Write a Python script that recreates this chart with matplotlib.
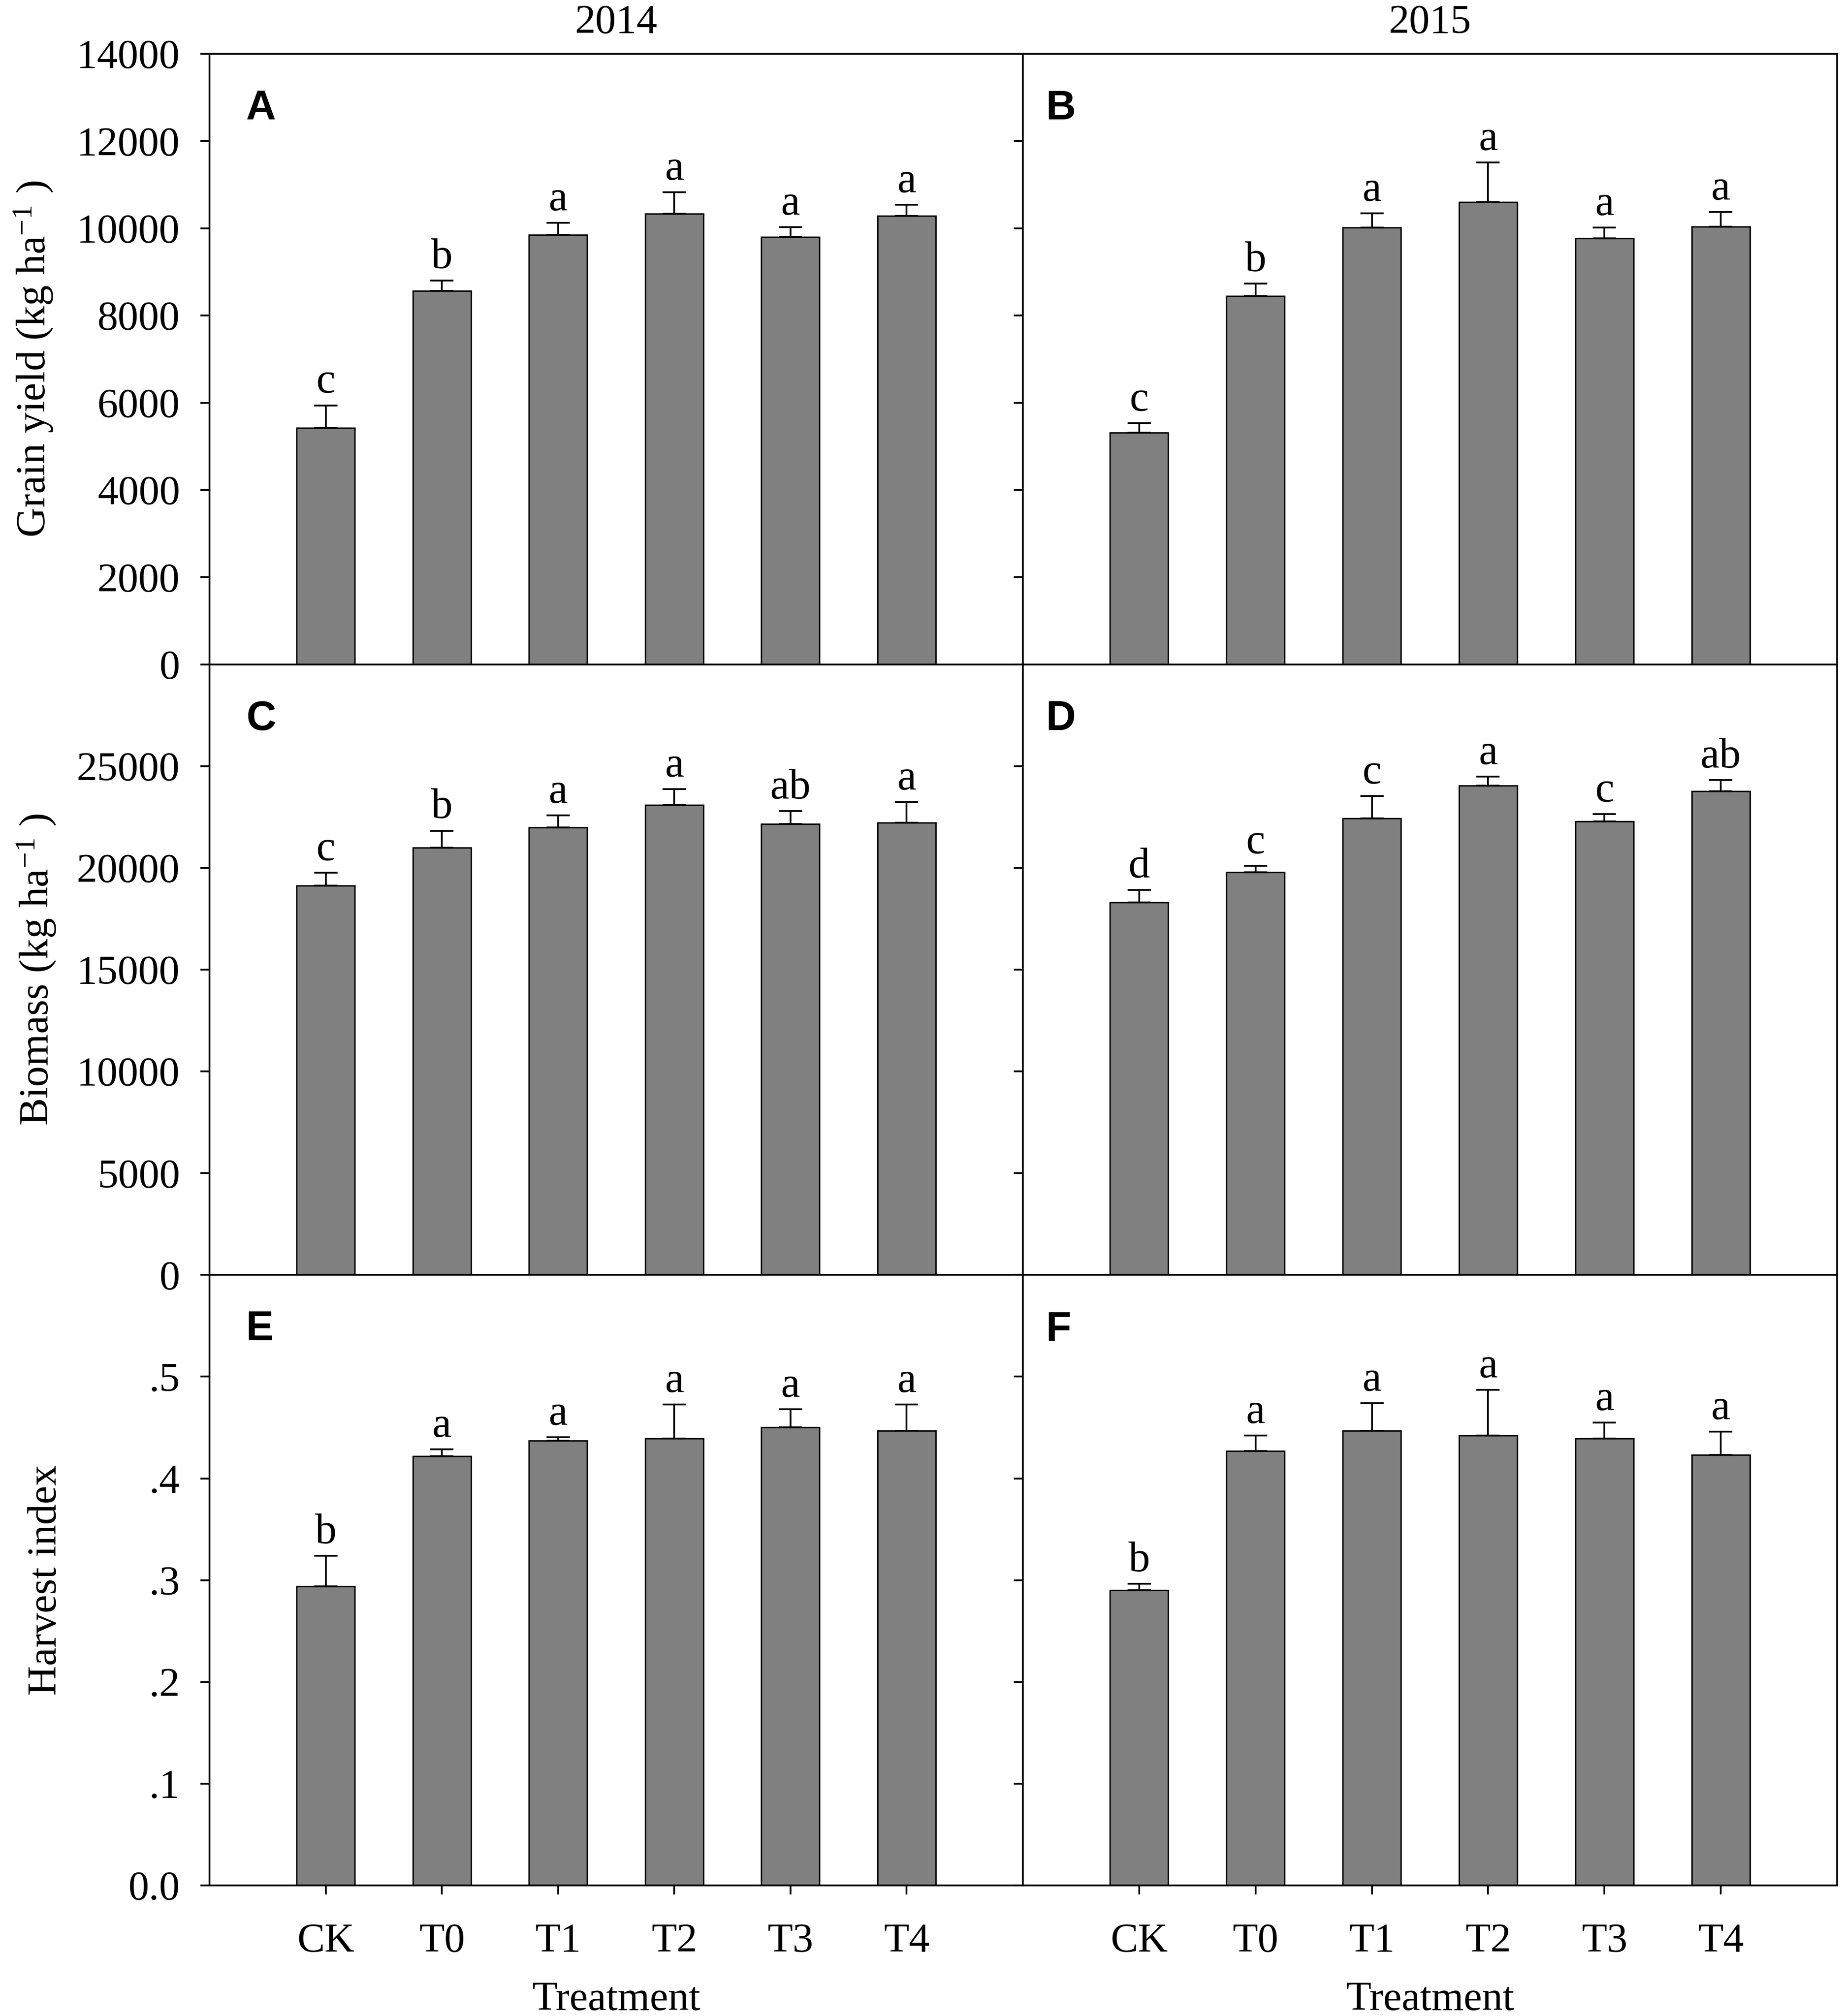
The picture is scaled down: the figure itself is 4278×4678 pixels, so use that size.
import matplotlib
matplotlib.use('Agg')
import matplotlib.pyplot as plt
import numpy as np

# ---------------- data ----------------
treatments = ['CK', 'T0', 'T1', 'T2', 'T3', 'T4']
years = ['2014', '2015']

grain_2014 = [5420, 8560, 9850, 10330, 9800, 10280]
grain_2014_se = [520, 240, 275, 495, 225, 260]
grain_2015 = [5310, 8450, 10020, 10600, 9770, 10040]
grain_2015_se = [220, 280, 320, 910, 250, 330]

biomass_2014 = [19130, 21000, 21990, 23100, 22150, 22230]
biomass_2014_se = [630, 830, 590, 770, 650, 1000]
biomass_2015 = [18300, 19780, 22440, 24040, 22280, 23760]
biomass_2015_se = [610, 320, 1090, 450, 360, 550]

hi_2014 = [0.294, 0.422, 0.437, 0.439, 0.450, 0.447]
hi_2014_se = [0.030, 0.0065, 0.0035, 0.0335, 0.018, 0.0255]
hi_2015 = [0.290, 0.427, 0.447, 0.442, 0.439, 0.423]
hi_2015_se = [0.0065, 0.015, 0.027, 0.045, 0.016, 0.023]

letters_A = ['c', 'b', 'a', 'a', 'a', 'a']
letters_B = ['c', 'b', 'a', 'a', 'a', 'a']
letters_C = ['c', 'b', 'a', 'a', 'ab', 'a']
letters_D = ['d', 'c', 'c', 'a', 'c', 'ab']
letters_E = ['b', 'a', 'a', 'a', 'a', 'a']
letters_F = ['b', 'a', 'a', 'a', 'a', 'a']

ylabels = ['Grain yield (kg ha$^{-1}$ )', 'Biomass (kg ha$^{-1}$ )', 'Harvest index']
yticks_grain = [0, 2000, 4000, 6000, 8000, 10000, 12000, 14000]
yticks_biomass = [0, 5000, 10000, 15000, 20000, 25000]
yticks_hi = [0.0, 0.1, 0.2, 0.3, 0.4, 0.5]
yticklabels_hi = ['0.0', '.1', '.2', '.3', '.4', '.5']

# ---------------- style ----------------
plt.rcParams['font.family'] = ['Liberation Serif', 'DejaVu Serif']
plt.rcParams['mathtext.fontset'] = 'custom'
plt.rcParams['mathtext.rm'] = 'Liberation Serif'
plt.rcParams['mathtext.it'] = 'Liberation Serif:italic'
plt.rcParams['mathtext.bf'] = 'Liberation Serif:bold'

W, H = 4278, 4678
DPI = 300
fig = plt.figure(figsize=(W / DPI, H / DPI), dpi=DPI)

x_left = [486, 2373]
x_right = [2373, 4262]
row_top = [125, 1541.7, 2958.3]
row_h = 1416.7

panels = [
    # row, col, values, se, letters, tag, ylim, yticks, yticklabels
    (0, 0, grain_2014, grain_2014_se, letters_A, 'A', (0, 14000), yticks_grain, None),
    (0, 1, grain_2015, grain_2015_se, letters_B, 'B', (0, 14000), yticks_grain, None),
    (1, 0, biomass_2014, biomass_2014_se, letters_C, 'C', (0, 30000), yticks_biomass, None),
    (1, 1, biomass_2015, biomass_2015_se, letters_D, 'D', (0, 30000), yticks_biomass, None),
    (2, 0, hi_2014, hi_2014_se, letters_E, 'E', (0, 0.6), yticks_hi, yticklabels_hi),
    (2, 1, hi_2015, hi_2015_se, letters_F, 'F', (0, 0.6), yticks_hi, yticklabels_hi),
]

LW = 1.0
xpos = np.arange(len(treatments))

for row, col, vals, se, lets, tag, ylim, yt, ytl in panels:
    l = x_left[col] / W
    w = (x_right[col] - x_left[col]) / W
    b = 1 - (row_top[row] + row_h) / H
    h = row_h / H
    ax = fig.add_axes([l, b, w, h])
    vals = np.asarray(vals, dtype=float)
    se = np.asarray(se, dtype=float)
    ax.bar(xpos, vals, width=0.5, color='#808080', edgecolor='black',
           linewidth=0.8, zorder=2)
    ax.errorbar(xpos, vals, yerr=[np.zeros_like(se), se], fmt='none',
                ecolor='black', elinewidth=LW, capsize=6.5, capthick=LW, zorder=3)
    for i, (v, e, lt) in enumerate(zip(vals, se, lets)):
        ax.annotate(lt, xy=(xpos[i], v + e), xytext=(0, 7),
                    textcoords='offset points', ha='center', va='baseline',
                    fontsize=24)
    ax.set_xlim(-1, 6)
    ax.set_ylim(*ylim)
    ax.set_yticks(yt)
    for sp in ax.spines.values():
        sp.set_linewidth(LW)
    ax.tick_params(axis='y', direction='out', length=5, width=LW,
                   labelsize=23, pad=11.5, right=False)
    if col == 0:
        if ytl is not None:
            ax.set_yticklabels(ytl)
        else:
            ax.set_yticklabels([str(v) for v in yt])
    else:
        ax.tick_params(axis='y', labelleft=False)
    if row == 2:
        ax.set_xticks(xpos)
        ax.set_xticklabels(treatments)
        ax.tick_params(axis='x', direction='out', length=5, width=LW,
                       labelsize=23, pad=16)
    else:
        ax.set_xticks([])
    tx = 0.045 if col == 0 else 0.0286
    ax.text(tx, 1 - 152 / row_h, tag, transform=ax.transAxes,
            ha='left', va='baseline', fontsize=23, fontweight='bold',
            family=['Liberation Sans', 'DejaVu Sans'])

# y-axis labels (rotated, baseline given in pixels)
ylabel_x = [105, 112, 130]
for r in range(3):
    yc = 1 - (row_top[r] + row_h / 2) / H
    fig.text(ylabel_x[r] / W, yc, ylabels[r], rotation=90, rotation_mode='anchor',
             ha='center', va='baseline', fontsize=23)

# year titles and x-axis labels
for c in range(2):
    xc = (x_left[c] + x_right[c]) / 2 / W
    fig.text(xc, 1 - 77 / H, years[c], ha='center', va='baseline', fontsize=23)
    fig.text(xc, 1 - 4664 / H, 'Treatment', ha='center', va='baseline', fontsize=23)

fig.savefig('out.png', dpi=DPI, facecolor='white')
